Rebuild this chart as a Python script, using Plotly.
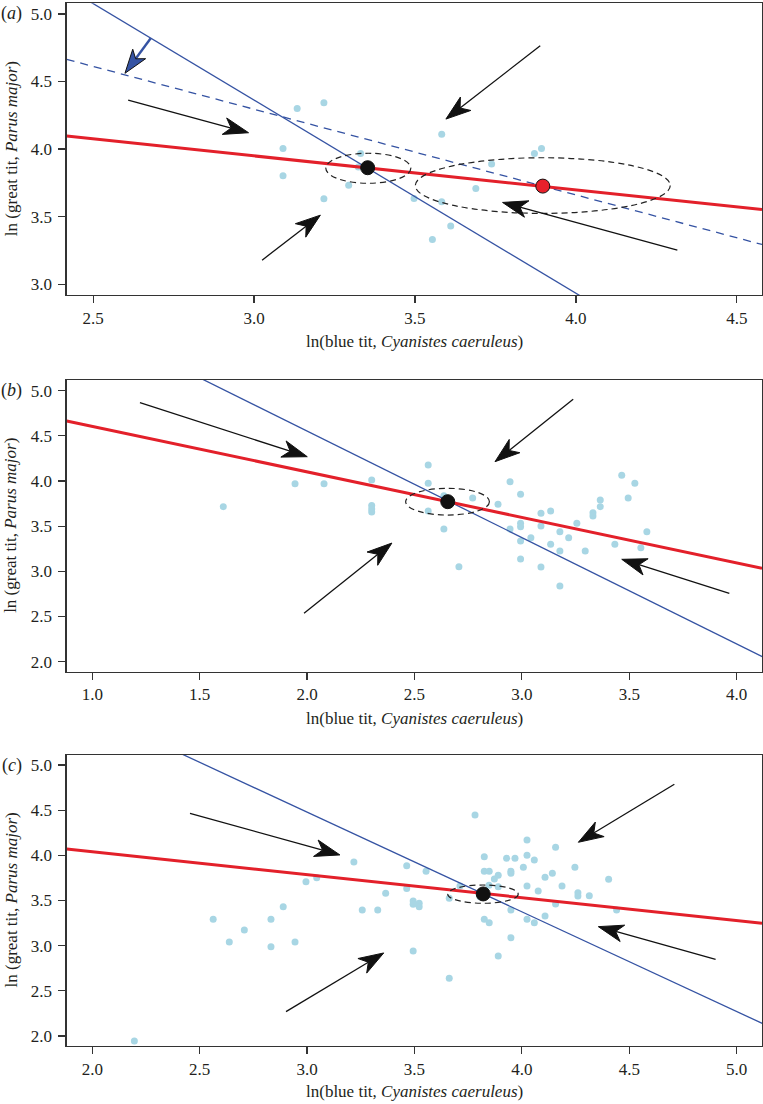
import math
import plotly.graph_objects as go

# ---------------- data ----------------
# panel (a)
a_pts_x = [3.090, 3.090, 3.134, 3.217, 3.217, 3.331, 3.324, 3.294, 3.583, 3.871, 3.893,
           3.738, 3.689, 3.497, 3.583, 3.611, 3.554]
a_pts_y = [4.005, 3.802, 4.301, 4.343, 3.632, 3.968, 3.867, 3.733, 4.109, 3.968, 4.005,
           3.889, 3.709, 3.635, 3.610, 3.430, 3.331]
a_red_x = [2.418, 4.578]
a_red_y = [4.096, 3.553]
a_blue_x = [2.40, 4.10]
a_blue_y = [5.22, 2.79]
a_dash_x = [2.418, 4.578]
a_dash_y = [4.664, 3.294]
a_eq_x = [3.353]          # black equilibrium
a_eq_y = [3.862]
a_eq2_x = [3.897]         # red equilibrium
a_eq2_y = [3.726]
a_ell = [(3.355, 3.858, 0.132, 0.111), (3.897, 3.730, 0.396, 0.206)]
a_arrows = [(2.609, 4.363, 2.983, 4.121),
            (3.025, 3.178, 3.206, 3.511),
            (3.889, 4.765, 3.596, 4.222),
            (4.315, 3.252, 3.772, 3.605)]
a_blue_arrow = (2.679, 4.820, 2.599, 4.561)

# panel (b)
b_pts_x = [1.610, 1.944, 2.079, 2.301, 2.301, 2.301, 2.301, 2.564, 2.564, 2.564, 2.637,
           2.637, 2.707, 2.771, 2.889, 2.945, 2.945, 2.994, 2.994, 2.994, 2.994, 2.994,
           3.042, 3.089, 3.089, 3.089, 3.134, 3.134, 3.177, 3.177, 3.177, 3.218, 3.256,
           3.295, 3.331, 3.331, 3.365, 3.365, 3.433, 3.465, 3.495, 3.526, 3.554, 3.582]
b_pts_y = [3.716, 3.970, 3.970, 4.011, 3.729, 3.690, 3.657, 4.177, 3.975, 3.668, 3.838,
           3.469, 3.052, 3.812, 3.742, 3.993, 3.469, 3.853, 3.532, 3.494, 3.336, 3.137,
           3.373, 3.643, 3.502, 3.048, 3.668, 3.300, 3.439, 3.225, 2.838, 3.373, 3.532,
           3.225, 3.649, 3.613, 3.790, 3.716, 3.300, 4.063, 3.812, 3.975, 3.262, 3.439]
b_red_x = [0.881, 4.118]
b_red_y = [4.665, 3.034]
b_blue_x = [1.40, 4.20]
b_blue_y = [5.26, 1.96]
b_eq_x = [2.655]
b_eq_y = [3.771]
b_ell = [(2.654, 3.771, 0.195, 0.148)]
b_arrows = [(1.222, 4.867, 2.001, 4.269),
            (1.986, 2.536, 2.395, 3.313),
            (3.239, 4.905, 2.875, 4.214),
            (3.966, 2.757, 3.465, 3.133)]

# panel (c)
c_pts_x = [2.196, 2.563, 2.638, 2.708, 2.832, 2.832, 2.889, 2.944, 2.995, 3.045, 3.218,
           3.257, 3.329, 3.782, 4.024, 4.157, 3.825, 3.929, 3.968, 4.024, 4.058, 4.007,
           4.247, 3.464, 3.554, 3.825, 3.848, 3.890, 3.872, 3.949, 3.949, 4.108, 4.142,
           4.404, 3.712, 3.847, 3.890, 4.024, 4.076, 4.187, 4.261, 4.261, 4.314, 3.464,
           3.366, 3.494, 3.494, 3.522, 3.522, 3.662, 3.805, 3.949, 4.157, 4.441, 3.825,
           3.848, 4.024, 4.058, 4.108, 3.949, 3.494, 3.890, 3.662]
c_pts_y = [1.945, 3.292, 3.041, 3.173, 3.292, 2.988, 3.431, 3.041, 3.708, 3.752, 3.926,
           3.395, 3.395, 4.446, 4.170, 4.089, 3.985, 3.967, 3.967, 4.000, 3.948, 3.867,
           3.867, 3.885, 3.823, 3.823, 3.823, 3.779, 3.738, 3.823, 3.801, 3.757, 3.801,
           3.735, 3.660, 3.668, 3.653, 3.660, 3.605, 3.660, 3.586, 3.550, 3.553, 3.631,
           3.580, 3.494, 3.458, 3.469, 3.431, 3.524, 3.542, 3.395, 3.461, 3.395, 3.292,
           3.254, 3.292, 3.254, 3.328, 3.088, 2.941, 2.886, 2.639]
c_red_x = [1.881, 5.118]
c_red_y = [4.070, 3.247]
c_blue_x = [2.30, 5.20]
c_blue_y = [5.25, 2.05]
c_eq_x = [3.820]
c_eq_y = [3.572]
c_ell = [(3.819, 3.570, 0.164, 0.101)]
c_arrows = [(2.455, 4.465, 3.153, 4.004),
            (2.902, 2.269, 3.357, 2.919),
            (4.710, 4.786, 4.263, 4.144),
            (4.902, 2.849, 4.356, 3.210)]

x_ranges = [[2.418, 4.578], [0.881, 4.118], [1.881, 5.118]]
y_ranges = [[2.92, 5.079], [1.889, 5.118], [1.889, 5.11]]
x_ticks = [[2.5, 3.0, 3.5, 4.0, 4.5], [1.0, 1.5, 2.0, 2.5, 3.0, 3.5, 4.0],
           [2.0, 2.5, 3.0, 3.5, 4.0, 4.5, 5.0]]
y_ticks = [[3.0, 3.5, 4.0, 4.5, 5.0], [2.0, 2.5, 3.0, 3.5, 4.0, 4.5, 5.0],
           [2.0, 2.5, 3.0, 3.5, 4.0, 4.5, 5.0]]
panel_labels = ["(<i>a</i>)", "(<i>b</i>)", "(<i>c</i>)"]
x_title = "ln(blue tit, <i>Cyanistes caeruleus</i>)"
y_title = "ln (great tit, <i>Parus major</i>)"

# ---------------- layout geometry ----------------
W, H = 763, 1104
LEFT, RIGHT = 66.7, 762.0
panels_px = [(3.3, 295.0), (380.0, 671.7), (755.0, 1046.0)]  # top, bottom in px
XTITLE_OFF = [47, 47, 45]

PT_COL = "#a8d6e4"
BLUE = "#3553a3"
RED = "#e3202a"
FONT = "Liberation Serif, Times New Roman, serif"
TXT = "#231f20"

fig = go.Figure()
shapes = []
annotations = []

xdom = [LEFT / W, RIGHT / W]


def head_path(x0, y0, x1, y1, ppx, ppy, L=25.0, Wd=8.5, N=7.0):
    dx = (x1 - x0) * ppx
    dy = (y1 - y0) * ppy
    ln = math.hypot(dx, dy)
    ux, uy = dx / ln, dy / ln
    nx, ny = -uy, ux
    pts = [(0, 0), (-L * ux + Wd * nx, -L * uy + Wd * ny), (-(L - N) * ux, -(L - N) * uy),
           (-L * ux - Wd * nx, -L * uy - Wd * ny)]
    dpts = [(x1 + px / ppx, y1 + py / ppy) for px, py in pts]
    path = "M " + " L ".join(f"{a:.5f},{b:.5f}" for a, b in dpts) + " Z"
    notch = dpts[2]
    return path, notch


panels = [
    dict(px=a_pts_x, py=a_pts_y, lines=[(a_blue_x, a_blue_y, BLUE, 1.3, "solid"),
                                        (a_dash_x, a_dash_y, BLUE, 1.3, "8px,6px"),
                                        (a_red_x, a_red_y, RED, 3.0, "solid")],
         dots=[(a_eq_x, a_eq_y, "#111111"), (a_eq2_x, a_eq2_y, "#e8212b")],
         ell=a_ell, arrows=a_arrows),
    dict(px=b_pts_x, py=b_pts_y, lines=[(b_blue_x, b_blue_y, BLUE, 1.3, "solid"),
                                        (b_red_x, b_red_y, RED, 3.0, "solid")],
         dots=[(b_eq_x, b_eq_y, "#111111")], ell=b_ell, arrows=b_arrows),
    dict(px=c_pts_x, py=c_pts_y, lines=[(c_blue_x, c_blue_y, BLUE, 1.3, "solid"),
                                        (c_red_x, c_red_y, RED, 3.0, "solid")],
         dots=[(c_eq_x, c_eq_y, "#111111")], ell=c_ell, arrows=c_arrows),
]

for i, p in enumerate(panels):
    top, bot = panels_px[i]
    ydom = [1 - bot / H, 1 - top / H]
    xa = "x" if i == 0 else f"x{i+1}"
    ya = "y" if i == 0 else f"y{i+1}"
    xr, yr = x_ranges[i], y_ranges[i]
    ppx = (RIGHT - LEFT) / (xr[1] - xr[0])
    ppy = (bot - top) / (yr[1] - yr[0])

    fig.add_trace(go.Scatter(x=p["px"], y=p["py"], mode="markers", xaxis=xa, yaxis=ya,
                             marker=dict(size=7, color=PT_COL), showlegend=False,
                             hoverinfo="skip"))
    for lx, ly, col, wd, dash in p["lines"]:
        fig.add_trace(go.Scatter(x=lx, y=ly, mode="lines", xaxis=xa, yaxis=ya,
                                 line=dict(color=col, width=wd, dash=dash),
                                 showlegend=False, hoverinfo="skip"))
    for cx, cy, rx, ry in p["ell"]:
        shapes.append(dict(type="circle", xref=xa, yref=ya, x0=cx - rx, x1=cx + rx,
                           y0=cy - ry, y1=cy + ry,
                           line=dict(color="#222222", width=1.2, dash="6px,4px")))
    for dx_, dy_, col in p["dots"]:
        fig.add_trace(go.Scatter(x=dx_, y=dy_, mode="markers", xaxis=xa, yaxis=ya,
                                 marker=dict(size=14, color=col,
                                             line=dict(color="#111111", width=1)),
                                 showlegend=False, hoverinfo="skip"))
    for x0, y0, x1, y1 in p["arrows"]:
        path, notch = head_path(x0, y0, x1, y1, ppx, ppy)
        shapes.append(dict(type="line", xref=xa, yref=ya, x0=x0, y0=y0, x1=notch[0],
                           y1=notch[1], line=dict(color="#111111", width=1.3)))
        shapes.append(dict(type="path", xref=xa, yref=ya, path=path,
                           fillcolor="#111111", line=dict(color="#111111", width=1)))
    if i == 0:
        x0, y0, x1, y1 = a_blue_arrow
        path, notch = head_path(x0, y0, x1, y1, ppx, ppy, L=24.0, Wd=8.0, N=6.0)
        shapes.append(dict(type="line", xref=xa, yref=ya, x0=x0, y0=y0, x1=notch[0],
                           y1=notch[1], line=dict(color=BLUE, width=2.4)))
        shapes.append(dict(type="path", xref=xa, yref=ya, path=path,
                           fillcolor=BLUE, line=dict(color="#111111", width=1)))

    axis_common = dict(showline=True, linecolor="#333333", linewidth=1.3, mirror=True,
                       ticks="outside", ticklen=7, tickwidth=1.2, tickcolor="#333333",
                       showgrid=False, zeroline=False, tickformat=".1f",
                       tickfont=dict(family=FONT, size=17, color=TXT))
    fig.update_layout(**{
        ("xaxis" if i == 0 else f"xaxis{i+1}"): dict(domain=xdom, range=xr, anchor=ya,
                                                      tickvals=x_ticks[i], **axis_common),
        ("yaxis" if i == 0 else f"yaxis{i+1}"): dict(domain=ydom, range=yr, anchor=xa,
                                                      tickvals=y_ticks[i],
                                                      ticklabelstandoff=3, **axis_common),
    })

    # texts
    annotations.append(dict(text=panel_labels[i], xref="paper", yref="paper",
                            x=12 / W, y=1 - (top + 10) / H, xanchor="center",
                            yanchor="middle", showarrow=False,
                            font=dict(family=FONT, size=18, color=TXT)))
    annotations.append(dict(text=y_title, xref="paper", yref="paper", x=11 / W,
                            y=1 - ((top + bot) / 2) / H, textangle=-90,
                            xanchor="center", yanchor="middle", showarrow=False,
                            font=dict(family=FONT, size=17, color=TXT)))
    annotations.append(dict(text=x_title, xref="paper", yref="paper",
                            x=((LEFT + RIGHT) / 2) / W, y=1 - (bot + XTITLE_OFF[i]) / H,
                            xanchor="center", yanchor="middle", showarrow=False,
                            font=dict(family=FONT, size=17, color=TXT)))

fig.update_layout(width=W, height=H, margin=dict(l=0, r=0, t=0, b=0),
                  font=dict(family=FONT, size=17, color=TXT),
                  paper_bgcolor="white", plot_bgcolor="white", hovermode=False,
                  shapes=shapes, annotations=annotations, showlegend=False)

fig.write_html("out.html", config={"displayModeBar": False, "staticPlot": True},
               post_script="document.body.style.margin='0px';"
                           "document.body.style.overflow='hidden';")
